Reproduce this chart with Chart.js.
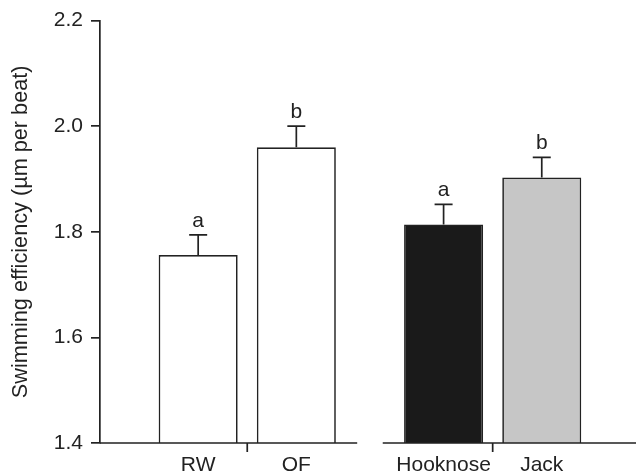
<!DOCTYPE html>
<html>
<head>
<meta charset="utf-8">
<script src="https://cdn.jsdelivr.net/npm/chart.js@4/dist/chart.umd.min.js"></script>
<style>
  html, body { margin: 0; padding: 0; background: #fff; }
  #wrap { width: 636px; height: 476px; }
</style>
</head>
<body>
<div id="wrap"><canvas id="effChart"></canvas></div>
<script>
// data
const groups = [["RW", "OF"], ["Hooknose", "Jack"]];
const means = [1.756, 1.960, 1.814, 1.903];
const errors = [0.038, 0.040, 0.038, 0.038];
const letters = ["a", "b", "a", "b"];
const yTicks = [1.4, 1.6, 1.8, 2.0, 2.2];

const categories = groups.flat();
const fills = ["#ffffff", "#ffffff", "#1a1a1a", "#c6c6c6"];
const ink = "#222222";
const FONT = "'Liberation Sans', Arial, Helvetica, sans-serif";

// bar slots: one unit apart inside a group, an extra half unit between groups
const GROUP_GAP = 0.5;
const xPos = [];
groups.forEach((g, gi) => g.forEach(() => xPos.push(xPos.length + 1 + gi * GROUP_GAP)));
const X_MAX = 5.46;
const AXIS_BREAK = 0.13;

const errorBars = {
  id: "errorBars",
  afterDatasetsDraw(chart) {
    const ctx = chart.ctx;
    const y = chart.scales.y;
    const x = chart.scales.x;
    const bars = chart.getDatasetMeta(0).data;
    ctx.save();
    ctx.strokeStyle = ink;
    ctx.lineWidth = 1.7;
    ctx.fillStyle = ink;
    ctx.font = "21px " + FONT;
    ctx.textAlign = "center";
    ctx.textBaseline = "alphabetic";
    bars.forEach((bar, i) => {
      const yb = y.getPixelForValue(means[i]);
      const yt = y.getPixelForValue(means[i] + errors[i]);
      ctx.beginPath();
      ctx.moveTo(bar.x, yb);
      ctx.lineTo(bar.x, yt);
      ctx.moveTo(bar.x - 9, yt);
      ctx.lineTo(bar.x + 9, yt);
      ctx.stroke();
      ctx.fillText(letters[i], bar.x, yt - 8);
    });

    // broken x axis with a tick between the two bars of each group
    const base = chart.chartArea.bottom;
    let start = 0;
    const breaks = [];
    groups.forEach((g, gi) => {
      if (gi < groups.length - 1) {
        const lastHere = xPos[start + g.length - 1];
        const firstNext = xPos[start + g.length];
        breaks.push((lastHere + firstNext) / 2);
      }
      start += g.length;
    });
    const segs = [];
    let from = x.min;
    breaks.forEach(b => { segs.push([from, b - AXIS_BREAK]); from = b + AXIS_BREAK; });
    segs.push([from, x.max]);
    ctx.beginPath();
    segs.forEach(s => {
      ctx.moveTo(x.getPixelForValue(s[0]), base);
      ctx.lineTo(x.getPixelForValue(s[1]), base);
    });
    start = 0;
    groups.forEach(g => {
      const mid = (xPos[start] + xPos[start + g.length - 1]) / 2;
      const px = x.getPixelForValue(mid);
      ctx.moveTo(px, base);
      ctx.lineTo(px, base + 9);
      start += g.length;
    });
    ctx.stroke();
    ctx.restore();
  }
};

new Chart(document.getElementById("effChart"), {
  type: "bar",
  data: {
    datasets: [{
      data: categories.map((c, i) => ({ x: xPos[i], y: means[i] })),
      backgroundColor: fills,
      borderColor: ink,
      borderWidth: 1.7,
      borderSkipped: false,
      categoryPercentage: 1,
      barPercentage: 0.805
    }]
  },
  options: {
    responsive: true,
    maintainAspectRatio: false,
    animation: false,
    devicePixelRatio: 1,
    layout: { padding: { top: 20, right: 0, bottom: 0, left: 0 } },
    plugins: { legend: { display: false }, tooltip: { enabled: false } },
    scales: {
      x: {
        type: "linear",
        offset: false,
        min: 0,
        max: X_MAX,
        afterBuildTicks(scale) { scale.ticks = xPos.map(v => ({ value: v })); },
        afterFit(scale) { scale.height = 33; },
        grid: { display: false, drawTicks: false, offset: false },
        border: { display: false },
        ticks: {
          autoSkip: false,
          maxRotation: 0,
          padding: 10,
          color: ink,
          font: { family: FONT, size: 21 },
          callback: (v, i) => categories[i]
        }
      },
      y: {
        min: yTicks[0],
        max: yTicks[yTicks.length - 1],
        afterBuildTicks(scale) { scale.ticks = yTicks.map(v => ({ value: v })); },
        afterFit(scale) { scale.width = 100; },
        grid: { drawOnChartArea: false, tickLength: 9, color: ink, lineWidth: 1.7 },
        border: { display: true, color: ink, width: 1.7 },
        ticks: {
          padding: 8,
          color: ink,
          font: { family: FONT, size: 21 },
          callback: v => v.toFixed(1)
        },
        title: {
          display: true,
          text: "Swimming efficiency (\u00b5m per beat)",
          color: ink,
          font: { family: FONT, size: 21.7 },
          padding: { top: 8, bottom: 0 }
        }
      }
    }
  },
  plugins: [errorBars]
});
</script>
</body>
</html>
